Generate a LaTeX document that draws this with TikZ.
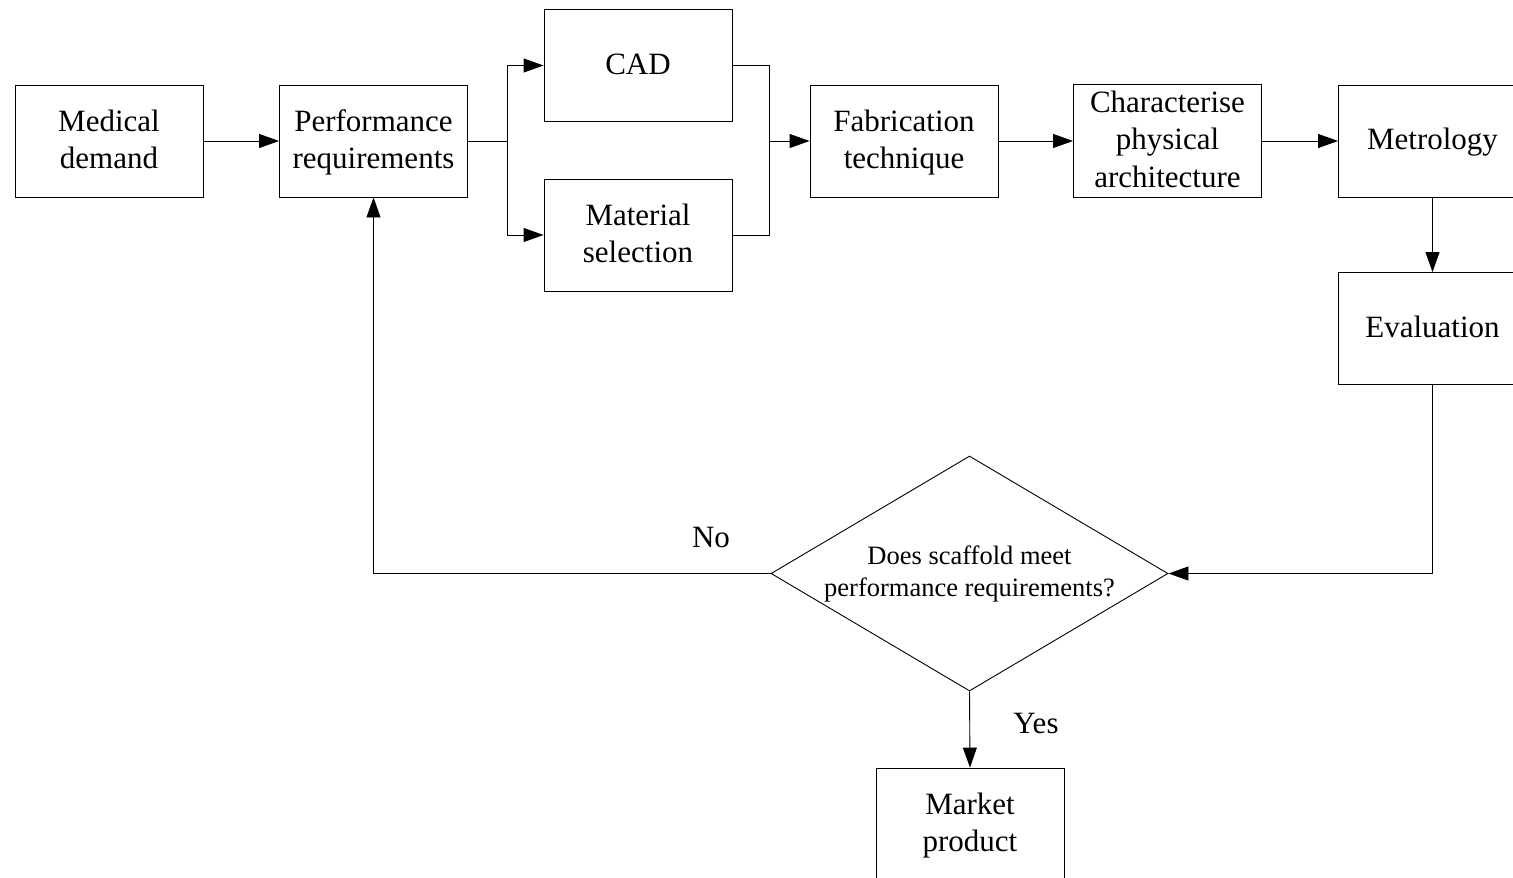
\documentclass[tikz,border=0pt]{standalone}
\usepackage{fontspec}
\usepackage{array}
\setmainfont{Liberation Serif}
\usetikzlibrary{arrows.meta,shapes.geometric}
% Box labels: fixed-height rows so every box centres its lines the same way
\newcommand{\boxlines}[1]{{\renewcommand{\arraystretch}{0.9009}%
  \setlength{\extrarowheight}{4.67pt}%
  \begin{tabular}{@{}c@{}}#1\end{tabular}}}
\tikzset{
  box/.style={draw, line width=0.9pt, minimum width=188pt, minimum height=112pt,
    inner sep=0pt, font=\fontsize{31}{37}\selectfont},
  decision/.style={draw, line width=0.9pt, diamond, minimum width=397pt, minimum height=235pt,
    inner sep=0pt, align=center, font=\fontsize{26.5}{32}\selectfont, aspect=1.69},
  flow/.style={line width=0.9pt, -{Triangle[length=20pt, width=14pt]}},
  link/.style={line width=0.9pt},
  lbl/.style={font=\fontsize{31}{38}\selectfont}
}
\begin{document}
\begin{tikzpicture}[x=1pt, y=-1pt]
\useasboundingbox (0,0) rectangle (1513,878);
\clip (0,0) rectangle (1513,878);

\node[box] (med)  at (109,141)    {\boxlines{Medical\\demand}};
\node[box] (perf) at (373.5,141)  {\boxlines{Performance\\requirements}};
\node[box] (cad)  at (638,65.5)   {\boxlines{CAD}};
\node[box] (mat)  at (638,235)    {\boxlines{Material\\selection}};
\node[box] (fab)  at (904,141)    {\boxlines{Fabrication\\technique}};
\node[box] (char) at (1167.5,141) {\boxlines{Characterise\\physical\\architecture}};
\node[box] (met)  at (1432.5,141) {\boxlines{Metrology}};
\node[box] (eva)  at (1432.5,328.5){\boxlines{Evaluation}};
\node[decision] (dec) at (969.5,573.5) {Does scaffold meet\\performance requirements?};
\node[box] (mkt)  at (970,824)    {\boxlines{Market\\product}};

\coordinate (split) at (507,141);
\coordinate (join)  at (769,141);

\draw[flow] (med) -- (perf);
\draw[link] (perf.east) -- (split);
\draw[flow] (split) |- (cad.west);
\draw[flow] (split) |- (mat.west);
\draw[link] (cad.east) -| (join);
\draw[link] (mat.east) -| (join);
\draw[flow] (join) -- (fab.west);
\draw[flow] (fab) -- (char);
\draw[flow] (char) -- (met);
\draw[flow] (met) -- (eva);
\draw[flow] (eva.south) |- (dec.east);
\draw[flow] (dec.west) -| (perf.south);
\draw[flow] (dec.south) -- (mkt.north);

\node[lbl] (no)  at (711,537) {No};
\node[lbl] (yes) at (1036,723) {Yes};
\end{tikzpicture}
\end{document}
